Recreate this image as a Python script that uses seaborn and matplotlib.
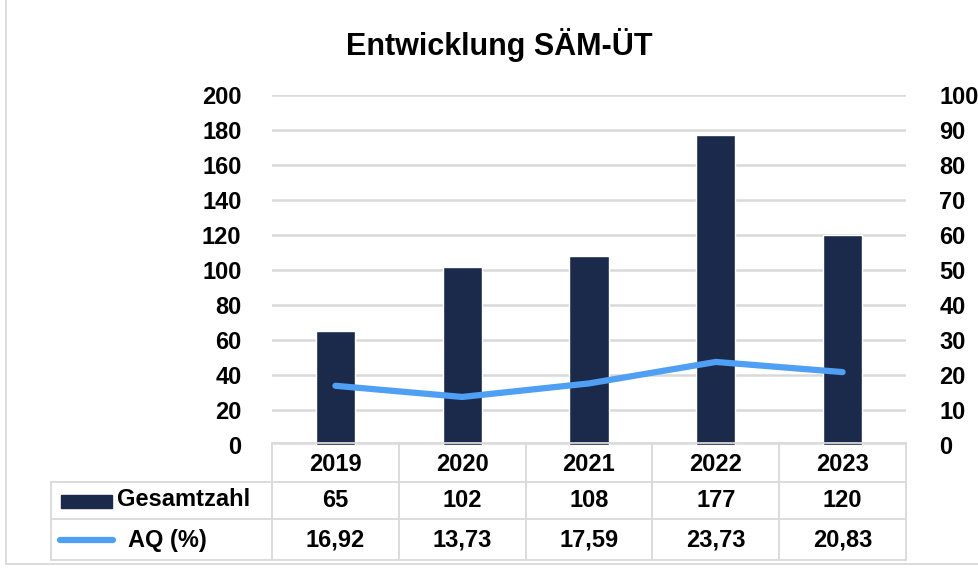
import pandas as pd
import matplotlib
matplotlib.use("Agg")
import matplotlib.pyplot as plt
from matplotlib.lines import Line2D
from matplotlib.patches import Rectangle
import seaborn as sns

# data
years = ["2019", "2020", "2021", "2022", "2023"]
gesamtzahl = [65, 102, 108, 177, 120]
aq_percent = [16.92, 13.73, 17.59, 23.73, 20.83]
aq_labels = ["16,92", "13,73", "17,59", "23,73", "20,83"]

BAR_COLOR = "#1b2a4b"
LINE_COLOR = "#4f9ff5"
GRID_COLOR = "#d9d9d9"
FS = 17

W, H = 979, 571

sns.set_style("white")
plt.rcParams["font.family"] = ["Liberation Sans", "DejaVu Sans"]
plt.rcParams["font.weight"] = "bold"
plt.rcParams["text.color"] = "black"
plt.rcParams["ytick.color"] = "black"


def fx(px):
    return px / W


def fy(py):
    return 1 - py / H


fig = plt.figure(figsize=(W / 100, H / 100), dpi=100)

# plot area in pixels: x 272..906, y 95..445
left, right, top, bottom = 272, 906, 95, 445
ax = fig.add_axes([fx(left), fy(bottom), fx(right - left), (bottom - top) / H])

df = pd.DataFrame({"Jahr": years, "Gesamtzahl": gesamtzahl, "AQ": aq_percent})
sns.barplot(data=df, x="Jahr", y="Gesamtzahl", color=BAR_COLOR, width=0.31,
            saturation=1, ax=ax, zorder=3)
ax.set_ylim(0, 200)
ax.set_xlim(-0.5, 4.5)
ax.set_yticks(range(0, 201, 20))
ax.yaxis.grid(True, color=GRID_COLOR, linewidth=1.8, zorder=0)
ax.set_axisbelow(True)
ax.set_xticks([])
ax.set_xlabel("")
ax.set_ylabel("")
ax.tick_params(axis="y", length=0, pad=22, labelsize=FS, labelcolor="black")
for s in ax.spines.values():
    s.set_visible(False)

ax2 = ax.twinx()
df["pos"] = range(len(years))
sns.lineplot(data=df, x="pos", y="AQ", color=LINE_COLOR, linewidth=4.5, ax=ax2,
             zorder=4, solid_capstyle="round")
ax2.set_ylim(0, 100)
ax2.set_xlim(-0.5, 4.5)
ax2.set_yticks(range(0, 101, 10))
ax2.set_xlabel("")
ax2.set_ylabel("")
ax2.tick_params(axis="y", length=0, pad=24, labelsize=FS, labelcolor="black")
for s in ax2.spines.values():
    s.set_visible(False)

fig.text(fx(499), fy(45), "Entwicklung SÄM-ÜT", ha="center", va="center",
         fontsize=22, fontweight="bold", color="black")

# data table below the plot
col_w = (right - left) / len(years)
row_y = [443, 482, 519, 560]
tab_left = 51


def hline(x0, x1, y):
    fig.add_artist(Line2D([fx(x0), fx(x1)], [fy(y), fy(y)], color=GRID_COLOR, lw=1.3))


def vline(x, y0, y1):
    fig.add_artist(Line2D([fx(x), fx(x)], [fy(y0), fy(y1)], color=GRID_COLOR, lw=1.3))


hline(left, right, row_y[0])
for y in row_y[1:]:
    hline(tab_left, right, y)
vline(tab_left, row_y[1], row_y[3])
for k in range(len(years) + 1):
    vline(left + k * col_w, row_y[0], row_y[3])

for i, yr in enumerate(years):
    cx = left + (i + 0.5) * col_w
    fig.text(fx(cx), fy((row_y[0] + row_y[1]) / 2 + 2), yr, ha="center", va="center", fontsize=FS)
    fig.text(fx(cx), fy((row_y[1] + row_y[2]) / 2), str(gesamtzahl[i]), ha="center", va="center", fontsize=FS)
    fig.text(fx(cx), fy((row_y[2] + row_y[3]) / 2), aq_labels[i], ha="center", va="center", fontsize=FS)

# legend keys inside the table
fig.add_artist(Rectangle((fx(61), fy(508)), fx(51), 13 / H, color=BAR_COLOR))
fig.text(fx(117), fy(500), "Gesamtzahl", ha="left", va="center", fontsize=FS)
fig.add_artist(Line2D([fx(60), fx(113)], [fy(540), fy(540)], color=LINE_COLOR, lw=4.5,
                      solid_capstyle="round"))
fig.text(fx(128), fy(540), "AQ (%)", ha="left", va="center", fontsize=FS)

# outer chart border
fig.add_artist(Line2D([fx(6), fx(6)], [fy(0), fy(564)], color=GRID_COLOR, lw=1.3))
fig.add_artist(Line2D([fx(6), fx(979)], [fy(564), fy(564)], color=GRID_COLOR, lw=1.3))

fig.savefig("out.png", dpi=100)
